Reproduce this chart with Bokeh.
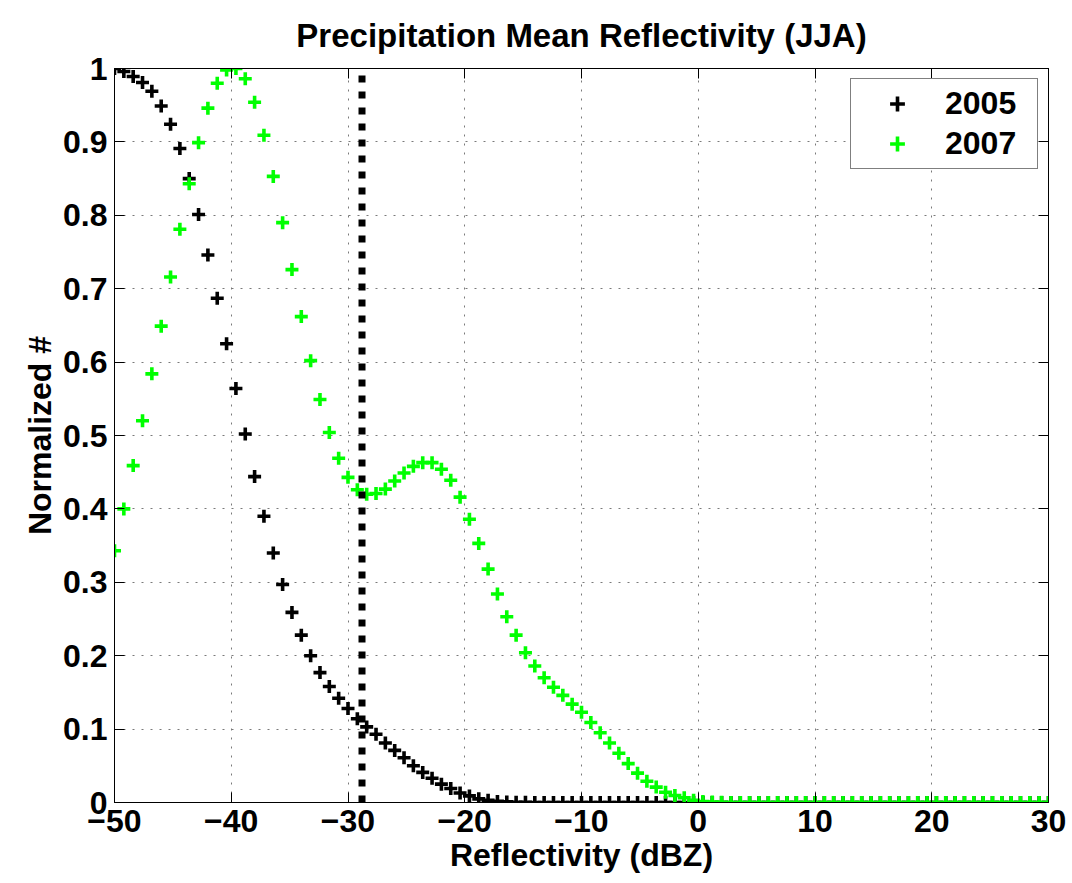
from bokeh.plotting import figure
from bokeh.models import (LinearAxis, Range1d, FixedTicker, Legend, LegendItem,
                          ColumnDataSource)
from bokeh.embed import file_html
from bokeh.resources import INLINE

# ---- data -------------------------------------------------------------
reflectivity = [
    -50.0, -49.2, -48.4, -47.6, -46.8, -46.0, -45.2, -44.4, -43.6, -42.8,
    -42.0, -41.2, -40.4, -39.6, -38.8, -38.0, -37.2, -36.4, -35.6, -34.8,
    -34.0, -33.2, -32.4, -31.6, -30.8, -30.0, -29.2, -28.4, -27.6, -26.8,
    -26.0, -25.2, -24.4, -23.6, -22.8, -22.0, -21.2, -20.4, -19.6, -18.8,
    -18.0, -17.2, -16.4, -15.6, -14.8, -14.0, -13.2, -12.4, -11.6, -10.8,
    -10.0, -9.2, -8.4, -7.6, -6.8, -6.0, -5.2, -4.4, -3.6, -2.8,
    -2.0, -1.2, -0.4, 0.4, 1.2, 2.0, 2.8, 3.6, 4.4, 5.2,
    6.0, 6.8, 7.6, 8.4, 9.2, 10.0, 10.8, 11.6, 12.4, 13.2,
    14.0, 14.8, 15.6, 16.4, 17.2, 18.0, 18.8, 19.6, 20.4, 21.2,
    22.0, 22.8, 23.6, 24.4, 25.2, 26.0, 26.8, 27.6, 28.4, 29.2,
    30.0,
]

norm_2005 = [
    1.000, 0.996, 0.989, 0.981, 0.969, 0.949, 0.924, 0.891, 0.850, 0.801,
    0.746, 0.687, 0.625, 0.564, 0.502, 0.444, 0.390, 0.340, 0.297, 0.259,
    0.228, 0.200, 0.177, 0.158, 0.142, 0.128, 0.114, 0.103, 0.093, 0.081,
    0.071, 0.061, 0.050, 0.041, 0.033, 0.025, 0.019, 0.013, 0.009, 0.005,
    0.003, 0.0015, 0.0008, 0.0004, 0.0002, 0.0001, 0, 0, 0, 0,
    0, 0, 0, 0, 0, 0, 0, 0, 0, 0,
    0, 0, 0, 0, 0, 0, 0, 0, 0, 0,
    0, 0, 0, 0, 0, 0, 0, 0, 0, 0,
    0, 0, 0, 0, 0, 0, 0, 0, 0, 0,
    0, 0, 0, 0, 0, 0, 0, 0, 0, 0,
    0,
]

norm_2007 = [
    0.343, 0.400, 0.459, 0.520, 0.584, 0.649, 0.716, 0.781, 0.843, 0.899,
    0.946, 0.980, 0.998, 1.000, 0.986, 0.954, 0.909, 0.853, 0.790, 0.726,
    0.662, 0.602, 0.549, 0.504, 0.469, 0.443, 0.426, 0.420, 0.421, 0.427,
    0.438, 0.449, 0.458, 0.463, 0.463, 0.454, 0.439, 0.416, 0.386, 0.353,
    0.318, 0.284, 0.253, 0.228, 0.204, 0.186, 0.170, 0.157, 0.146, 0.134,
    0.123, 0.109, 0.095, 0.081, 0.067, 0.053, 0.040, 0.029, 0.021, 0.014,
    0.0095, 0.0064, 0.003, 0.0013, 0.0006, 0.0003, 0.0001, 0, 0, 0,
    0, 0, 0, 0, 0, 0, 0, 0, 0, 0,
    0, 0, 0, 0, 0, 0, 0, 0, 0, 0,
    0, 0, 0, 0, 0, 0, 0, 0, 0, 0,
    0,
]

threshold_x = [-28.8, -28.8]
threshold_y = [0.0, 1.0]

x_ticks = [-50, -40, -30, -20, -10, 0, 10, 20, 30]
x_tick_labels = ["\u221250", "\u221240", "\u221230", "\u221220", "\u221210",
                 "0", "10", "20", "30"]
y_ticks = [0, 0.1, 0.2, 0.3, 0.4, 0.5, 0.6, 0.7, 0.8, 0.9, 1]
y_tick_labels = ["0", "0.1", "0.2", "0.3", "0.4", "0.5", "0.6", "0.7",
                 "0.8", "0.9", "1"]

series_names = ["2005", "2007"]
series_colors = ["#000000", "#00ff00"]

FONT = "Liberation Sans"

# ---- figure -----------------------------------------------------------
p = figure(width=1072, height=883, x_range=Range1d(-50, 30),
           y_range=Range1d(0, 1), output_backend="svg",
           toolbar_location=None,
           min_border_left=114, min_border_right=24,
           min_border_top=67, min_border_bottom=81)
p.background_fill_color = "white"
p.border_fill_color = "white"
p.outline_line_color = "black"
p.outline_line_width = 1

p.title.text = "Precipitation Mean Reflectivity (JJA)"
p.title.text_font = FONT
p.title.text_font_style = "bold"
p.title.text_font_size = "33px"
p.title.align = "center"
p.title.text_color = "black"
p.title.standoff = 29

def style_axis(ax, ticks, labels, show_labels=True):
    ax.ticker = FixedTicker(ticks=ticks)
    ax.axis_line_color = "black"
    ax.axis_line_width = 1
    ax.major_tick_line_color = "black"
    ax.major_tick_in = 10
    ax.major_tick_out = 0
    ax.minor_tick_line_color = None
    if show_labels:
        ax.major_label_overrides = {t: l for t, l in zip(ticks, labels)}
        ax.major_label_text_font = FONT
        ax.major_label_text_font_style = "bold"
        ax.major_label_text_color = "black"
        ax.major_label_text_font_size = "32px"
    else:
        ax.major_label_text_color = None
        ax.major_label_text_font_size = "1px"
        ax.major_label_standoff = 0

xax = p.xaxis[0]
yax = p.yaxis[0]
style_axis(xax, x_ticks, x_tick_labels)
style_axis(yax, y_ticks, y_tick_labels)
xax.major_label_standoff = 7
yax.major_label_standoff = 7
xax.axis_label = "Reflectivity (dBZ)"
yax.axis_label = "Normalized #"
for ax in (xax, yax):
    ax.axis_label_text_font = FONT
    ax.axis_label_text_font_style = "bold"
    ax.axis_label_text_font_size = "32px"
    ax.axis_label_text_color = "black"
    ax.axis_label_standoff = 2

top_ax = LinearAxis()
right_ax = LinearAxis()
style_axis(top_ax, x_ticks, x_tick_labels, show_labels=False)
style_axis(right_ax, y_ticks, y_tick_labels, show_labels=False)
p.add_layout(top_ax, "above")
p.add_layout(right_ax, "right")

for g in (p.xgrid[0], p.ygrid[0]):
    g.grid_line_color = "#7a7a7a"
    g.grid_line_width = 1
    g.grid_line_dash = "2 7"
p.xgrid[0].ticker = FixedTicker(ticks=x_ticks)
p.ygrid[0].ticker = FixedTicker(ticks=y_ticks)

src = ColumnDataSource(dict(x=reflectivity, y05=norm_2005, y07=norm_2007))

r05 = p.scatter("x", "y05", source=src, marker="cross", size=13,
                line_width=3.6, line_color=series_colors[0])
r07 = p.scatter("x", "y07", source=src, marker="cross", size=13,
                line_width=3.6, line_color=series_colors[1])

p.line(threshold_x, threshold_y, line_color="black", line_width=7,
       line_dash="7 9", line_cap="butt")

legend = Legend(items=[LegendItem(label=series_names[0], renderers=[r05]),
                       LegendItem(label=series_names[1], renderers=[r07])],
                location="top_right")
legend.margin = 10
legend.padding = 6
legend.spacing = 3
legend.glyph_width = 80
legend.glyph_height = 37
legend.label_height = 37
legend.label_width = 86
legend.label_standoff = 8
legend.label_text_font = FONT
legend.label_text_font_style = "bold"
legend.label_text_font_size = "32px"
legend.label_text_color = "black"
legend.border_line_color = "black"
legend.border_line_width = 1
legend.background_fill_color = "white"
legend.background_fill_alpha = 1
p.add_layout(legend)

open("out.html", "w").write(file_html(p, INLINE))
